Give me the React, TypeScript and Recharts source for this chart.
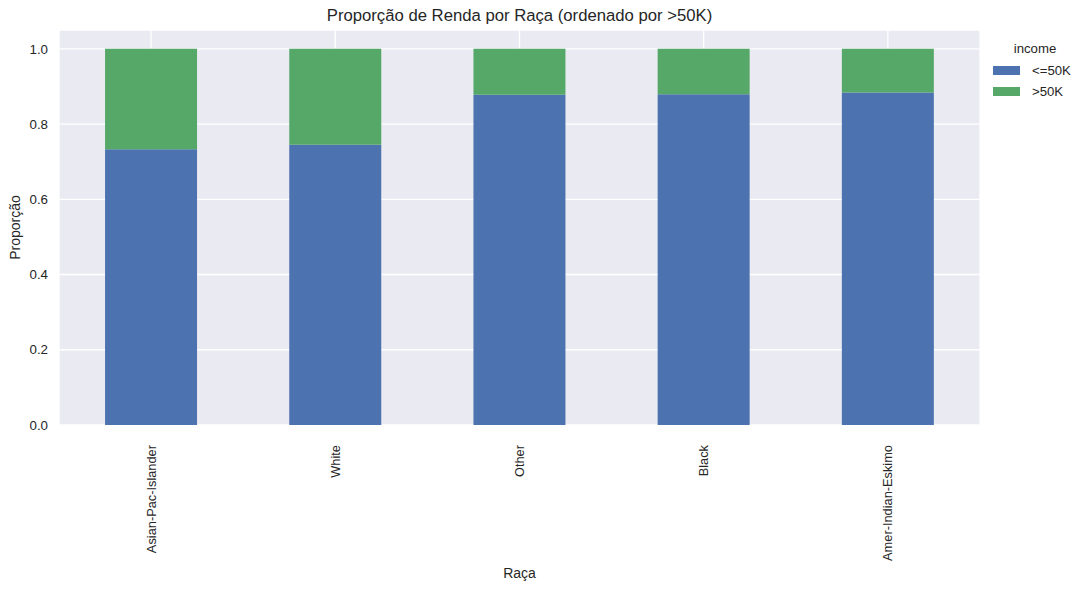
import React from 'react'
import {
  BarChart, Bar, XAxis, YAxis, CartesianGrid, Label,
} from 'recharts'

const races = ['Asian-Pac-Islander', 'White', 'Other', 'Black', 'Amer-Indian-Eskimo']
const lowIncome = [0.733, 0.745, 0.878, 0.879, 0.884]
const highIncome = [0.267, 0.255, 0.122, 0.121, 0.116]
const yTicks = [0, 0.2, 0.4, 0.6, 0.8, 1.0]

const data = races.map((race, i) => ({ race, low: lowIncome[i], high: highIncome[i] }))

const FONT = '"Liberation Sans", Arial, sans-serif'
const TEXT = '#262626'
const BLUE = '#4C72B0'
const GREEN = '#55A868'

function RotatedTick({ x, y, payload }: { x?: number; y?: number; payload?: { value: string } }) {
  const ty = (y ?? 0) + 12
  return (
    <text
      x={x}
      y={ty}
      transform={`rotate(-90, ${x}, ${ty})`}
      textAnchor="end"
      dy="0.35em"
      fontSize={12.8}
      fontFamily={FONT}
      fill={TEXT}
    >
      {payload?.value}
    </text>
  )
}

function IncomeLegend() {
  const items = [
    { name: '<=50K', color: BLUE },
    { name: '>50K', color: GREEN },
  ]
  return (
    <div style={{ position: 'absolute', left: 985, top: 38, fontFamily: FONT, fontSize: 13.2, color: TEXT, width: 92 }}>
      <div style={{ textAlign: 'center', marginLeft: 8, height: 22, lineHeight: '22px' }}>income</div>
      {items.map(it => (
        <div key={it.name} style={{ display: 'flex', alignItems: 'center', height: 21 }}>
          <span style={{ width: 27, height: 9, background: it.color, marginLeft: 8, marginRight: 12, flexShrink: 0 }} />
          <span>{it.name}</span>
        </div>
      ))}
    </div>
  )
}

export default function App() {
  return (
    <div style={{ position: 'absolute', left: 0, top: 0, width: 1087, height: 590, background: '#fff' }}>
      <div style={{
        position: 'absolute', left: 59, width: 921, top: 6, textAlign: 'center',
        fontFamily: FONT, fontSize: 16.7, color: TEXT,
      }}>
        Proporção de Renda por Raça (ordenado por &gt;50K)
      </div>
      <BarChart
        width={1087}
        height={590}
        data={data}
        margin={{ top: 30, right: 107, bottom: 7, left: 9 }}
        barCategoryGap="25%"
      >
        <CartesianGrid fill="#EAEAF2" stroke="#FFFFFF" strokeWidth={1.3} />
        <XAxis
          dataKey="race"
          axisLine={false}
          tickLine={false}
          height={158}
          interval={0}
          tick={<RotatedTick />}
        >
          <Label value="Raça" position="insideBottom" offset={5} fill={TEXT} fontSize={14} fontFamily={FONT} />
        </XAxis>
        <YAxis
          domain={[0, 1.05]}
          ticks={yTicks}
          axisLine={false}
          tickLine={false}
          width={50}
          tickMargin={5}
          tickFormatter={(v: number) => v.toFixed(1)}
          tick={{ fontSize: 13.3, fill: TEXT, fontFamily: FONT }}
        >
          <Label value="Proporção" angle={-90} position="insideLeft" offset={6} fill={TEXT} fontSize={14} fontFamily={FONT} style={{ textAnchor: 'middle' }} />
        </YAxis>
        <Bar dataKey="low" name="<=50K" stackId="a" fill={BLUE} isAnimationActive={false} />
        <Bar dataKey="high" name=">50K" stackId="a" fill={GREEN} isAnimationActive={false} />
      </BarChart>
      <IncomeLegend />
    </div>
  )
}
